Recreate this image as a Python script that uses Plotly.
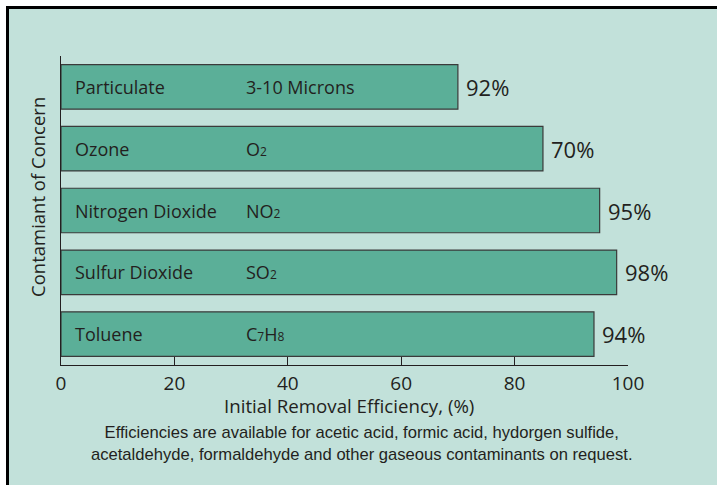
import plotly.graph_objects as go

# ---- data ----
categories = ["Particulate", "Ozone", "Nitrogen Dioxide", "Sulfur Dioxide", "Toluene"]
formulas = ["3-10 Microns", "O<span style='font-size:12px'>2</span>",
            "NO<span style='font-size:12px'>2</span>", "SO<span style='font-size:12px'>2</span>",
            "C<span style='font-size:12px'>7</span>H<span style='font-size:12px'>8</span>"]
bar_values = [70, 85, 95, 98, 94]
value_labels = ["92%", "70%", "95%", "98%", "94%"]
x_ticks = [0, 20, 40, 60, 80, 100]

# ---- style ----
W, H = 717, 485
L, R, T, B = 61, 89, 56, 120
BG = "#C2E1DA"
BAR = "#5BAF98"
INK = "#231F20"
FONT = "Open Sans"

pw = W - L - R
ph = H - T - B


def px2x(px):
    return (px - L) / pw


def px2y(py):
    return 1 - (py - T) / ph


fig = go.Figure()
fig.add_trace(go.Bar(
    y=categories, x=bar_values, orientation="h",
    marker=dict(color=BAR, line=dict(color="#3a3a3a", width=1.2)),
    width=0.72, hoverinfo="skip", showlegend=False,
))

annotations = []
for cat, f, v, lab in zip(categories, formulas, bar_values, value_labels):
    annotations.append(dict(x=0, y=cat, xref="x", yref="y", text=cat, showarrow=False,
                            xanchor="left", yanchor="middle", xshift=12,
                            font=dict(family=FONT, size=18, color=INK)))
    annotations.append(dict(x=px2x(244), y=cat, xref="paper", yref="y", text=f, showarrow=False,
                            xanchor="left", yanchor="middle",
                            font=dict(family=FONT, size=18, color=INK)))
    annotations.append(dict(x=v, y=cat, xref="x", yref="y", text=lab, showarrow=False,
                            xanchor="left", yanchor="middle", xshift=6,
                            font=dict(family=FONT, size=22, color=INK)))

# axis titles
annotations.append(dict(x=px2x(349), y=px2y(405), xref="paper", yref="paper",
                        text="Initial Removal Efficiency, (%)", showarrow=False,
                        xanchor="center", yanchor="middle",
                        font=dict(family=FONT, size=18.7, color=INK)))
annotations.append(dict(x=px2x(37), y=px2y(197), xref="paper", yref="paper",
                        text="Contamiant of Concern", showarrow=False, textangle=-90,
                        xanchor="center", yanchor="middle",
                        font=dict(family=FONT, size=18.5, color=INK)))
# footnote
annotations.append(dict(x=px2x(362), y=px2y(443), xref="paper", yref="paper",
                        text="Efficiencies are available for acetic acid, formic acid, hydorgen sulfide,<br>"
                             "acetaldehyde, formaldehyde and other gaseous contaminants on request.",
                        showarrow=False, xanchor="center", yanchor="middle", align="center",
                        font=dict(family="Liberation Sans, Arial", size=16.6, color=INK)))

shapes = [
    # white margin strips (top / left)
    dict(type="rect", xref="paper", yref="paper", x0=px2x(-5), x1=px2x(W + 5),
         y0=px2y(-5), y1=px2y(6), fillcolor="white", line=dict(width=0), layer="above"),
    dict(type="rect", xref="paper", yref="paper", x0=px2x(-5), x1=px2x(6),
         y0=px2y(-5), y1=px2y(H + 5), fillcolor="white", line=dict(width=0), layer="above"),
    # black frame (top and left visible)
    dict(type="line", xref="paper", yref="paper", x0=px2x(6), x1=px2x(W + 5),
         y0=px2y(7.5), y1=px2y(7.5), line=dict(color="black", width=3), layer="above"),
    dict(type="line", xref="paper", yref="paper", x0=px2x(7.5), x1=px2x(7.5),
         y0=px2y(6), y1=px2y(H + 5), line=dict(color="black", width=3), layer="above"),
]

fig.update_layout(
    width=W, height=H,
    margin=dict(l=L, r=R, t=T, b=B, pad=0),
    paper_bgcolor=BG, plot_bgcolor=BG,
    bargap=0.28,
    annotations=annotations, shapes=shapes,
    xaxis=dict(range=[0, 100], tickvals=x_ticks, ticks="inside", ticklen=8, tickwidth=1.2,
               tickcolor=INK, showline=True, linecolor=INK, linewidth=1.4, showgrid=False,
               zeroline=False, tickfont=dict(family=FONT, size=19, color=INK),
               ticklabelstandoff=1, fixedrange=True),
    yaxis=dict(categoryorder="array", categoryarray=categories[::-1], range=[-0.5, 4.5],
               showticklabels=False, ticks="", showline=True, linecolor=INK, linewidth=1.4,
               showgrid=False, zeroline=False, fixedrange=True),
)

fig.write_html(
    "out.html",
    config={"displayModeBar": False},
    post_script="document.body.style.margin='0';document.body.style.overflow='hidden';",
)
